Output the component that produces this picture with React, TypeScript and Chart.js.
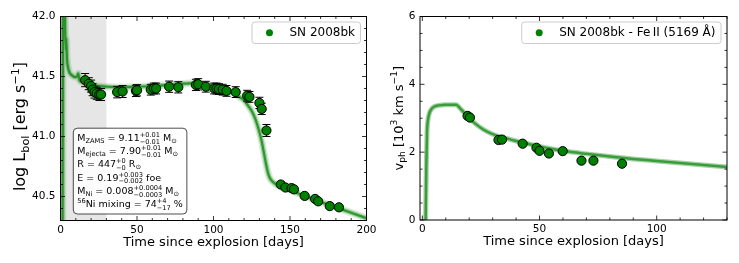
import React, { useEffect, useRef } from 'react';
import { Chart, registerables } from 'chart.js';
Chart.register(...registerables);

const FONT = '"DejaVu Sans", "Liberation Sans", sans-serif';
const GREEN = '#008000';

// ---------- Left panel: bolometric light curve ----------
const lcDays = [16.1, 18.5, 20.0, 21.0, 22.2, 23.7, 25.4, 26.5, 37.0, 40.6, 49.3, 50.0, 59.0, 61.0, 62.5, 71.0, 77.0, 88.5, 90.0, 95.0, 100.4, 102.0, 103.5, 106.0, 108.5, 114.5, 122.0, 123.5, 130.0, 131.5, 134.6, 144.0, 147.0, 151.0, 152.6, 159.6, 166.4, 168.4, 176.0, 182.0];
const lcLogL = [41.47, 41.44, 41.42, 41.39, 41.37, 41.36, 41.35, 41.35, 41.37, 41.375, 41.38, 41.385, 41.39, 41.40, 41.40, 41.415, 41.41, 41.43, 41.435, 41.415, 41.40, 41.40, 41.395, 41.39, 41.38, 41.37, 41.34, 41.33, 41.28, 41.23, 41.05, 40.60, 40.575, 40.57, 40.56, 40.505, 40.48, 40.46, 40.42, 40.41];
const lcErr = [0.055, 0.05, 0.05, 0.05, 0.05, 0.05, 0.05, 0.05, 0.048, 0.05, 0.047, 0.047, 0.045, 0.045, 0.045, 0.047, 0.047, 0.047, 0.047, 0.045, 0.045, 0.045, 0.045, 0.045, 0.045, 0.045, 0.045, 0.045, 0.047, 0.047, 0.05, 0.02, 0.02, 0.02, 0.02, 0.02, 0.02, 0.02, 0.02, 0.02];
const lcModelDays = [1.3, 1.5, 1.7, 2.3, 3.0, 3.4, 3.7, 4.2, 5.0, 6.0, 7.5, 9.5, 10.8, 11.6, 12.4, 14, 17, 21, 25, 30, 40, 50, 60, 70, 80, 88, 95, 102, 108, 113, 117, 120, 123, 125.5, 127.5, 129.5, 131.5, 133, 134.5, 136, 137.5, 139, 141, 144, 150, 160, 170, 180, 190, 202];
const lcModelLogL = [40.0, 41.2, 42.6, 42.6, 41.9, 41.72, 41.82, 41.65, 41.57, 41.53, 41.51, 41.495, 41.5, 41.525, 41.47, 41.455, 41.44, 41.43, 41.42, 41.415, 41.41, 41.415, 41.42, 41.43, 41.44, 41.445, 41.43, 41.41, 41.39, 41.36, 41.33, 41.3, 41.25, 41.2, 41.14, 41.06, 40.96, 40.86, 40.76, 40.68, 40.64, 40.62, 40.6, 40.58, 40.555, 40.5, 40.455, 40.41, 40.365, 40.31];
const lcXTicks = [0, 50, 100, 150, 200];
const lcYTicks = [40.5, 41.0, 41.5, 42.0];
const lcShade = [0, 30];

// ---------- Right panel: photospheric velocity ----------
const velDays = [19.3, 20.3, 32.5, 34.0, 42.8, 48.7, 50.0, 54.0, 59.9, 67.9, 73.0, 85.2];
const velVph = [3.07, 3.02, 2.36, 2.37, 2.25, 2.13, 2.04, 1.96, 2.03, 1.75, 1.75, 1.66];
const velModelDays = [1.4, 1.7, 2.0, 2.4, 3.0, 4.0, 5.0, 7.0, 10.0, 14.5, 16, 17.5, 19, 21, 23, 26, 30, 35, 40, 45, 50, 55, 60, 70, 80, 90, 100, 110, 120, 130];
const velModelVph = [0, 1.6, 2.6, 2.95, 3.15, 3.28, 3.34, 3.38, 3.4, 3.4, 3.3, 3.19, 3.09, 2.94, 2.82, 2.67, 2.53, 2.42, 2.33, 2.25, 2.17, 2.1, 2.04, 1.95, 1.87, 1.8, 1.74, 1.68, 1.62, 1.56];
const velXTicks = [0, 50, 100];
const velYTicks = [0, 2, 4, 6];

// ---------- Texts ----------
const xTitle = 'Time since explosion [days]';
const lcLegend = 'SN 2008bk';
const velLegend = 'SN 2008bk - Fe\u2009II (5169 Å)';

type Seg = { t?: string; sup?: string; sub?: string };
const lcYTitle: Seg[] = [{ t: 'log L' }, { sub: 'bol' }, { t: ' [erg s' }, { sup: '\u22121' }, { t: ']' }];
const velYTitle: Seg[] = [{ t: 'v' }, { sub: 'ph' }, { t: ' [10' }, { sup: '3' }, { t: ' km s' }, { sup: '\u22121' }, { t: ']' }];
const fitLines: Seg[][] = [
  [{ t: 'M' }, { sub: 'ZAMS' }, { t: ' = 9.11' }, { sup: '+0.01', sub: '\u22120.01' }, { t: ' M' }, { sub: '\u2299' }],
  [{ t: 'M' }, { sub: 'ejecta' }, { t: ' = 7.90' }, { sup: '+0.01', sub: '\u22120.01' }, { t: ' M' }, { sub: '\u2299' }],
  [{ t: 'R = 447' }, { sup: '+0', sub: '\u22120' }, { t: ' R' }, { sub: '\u2299' }],
  [{ t: 'E = 0.19' }, { sup: '+0.003', sub: '\u22120.002' }, { t: ' foe' }],
  [{ t: 'M' }, { sub: 'Ni' }, { t: ' = 0.008' }, { sup: '+0.0004', sub: '\u22120.0003' }, { t: ' M' }, { sub: '\u2299' }],
  [{ sup: '56' }, { t: 'Ni mixing = 74' }, { sup: '+4', sub: '\u221217' }, { t: ' %' }],
];

function richWidths(ctx: CanvasRenderingContext2D, segs: Seg[], size: number) {
  const ss = size * 0.7;
  return segs.map((s) => {
    if (s.t !== undefined) {
      ctx.font = `${size}px ${FONT}`;
      return ctx.measureText(s.t).width;
    }
    ctx.font = `${ss}px ${FONT}`;
    const a = s.sup ? ctx.measureText(s.sup).width : 0;
    const b = s.sub ? ctx.measureText(s.sub).width : 0;
    return Math.max(a, b);
  });
}

function drawRich(ctx: CanvasRenderingContext2D, segs: Seg[], x: number, y: number, size: number, center: boolean) {
  const ws = richWidths(ctx, segs, size);
  const total = ws.reduce((a, b) => a + b, 0);
  let cx = center ? x - total / 2 : x;
  ctx.textBaseline = 'alphabetic';
  ctx.textAlign = 'left';
  segs.forEach((s, i) => {
    if (s.t !== undefined) {
      ctx.font = `${size}px ${FONT}`;
      ctx.fillText(s.t, cx, y);
    } else {
      ctx.font = `${size * 0.7}px ${FONT}`;
      const both = !!(s.sup && s.sub);
      if (s.sup) ctx.fillText(s.sup, cx, y - size * (both ? 0.42 : 0.4));
      if (s.sub) ctx.fillText(s.sub, cx, y + size * (both ? 0.3 : 0.22));
    }
    cx += ws[i];
  });
  return total;
}

function roundRect(ctx: CanvasRenderingContext2D, x: number, y: number, w: number, h: number, r: number) {
  ctx.beginPath();
  ctx.moveTo(x + r, y);
  ctx.lineTo(x + w - r, y);
  ctx.arcTo(x + w, y, x + w, y + r, r);
  ctx.lineTo(x + w, y + h - r);
  ctx.arcTo(x + w, y + h, x + w - r, y + h, r);
  ctx.lineTo(x + r, y + h);
  ctx.arcTo(x, y + h, x, y + h - r, r);
  ctx.lineTo(x, y + r);
  ctx.arcTo(x, y, x + r, y, r);
  ctx.closePath();
}

interface PanelCfg {
  xMinor: number;
  yMinor: number;
  yTitle: Seg[];
  yTitleOffset: number;
  yTitleSize: number;
  yTitleShift: number;
  legend: string;
  shade?: number[];
  err?: number[];
  box?: Seg[][];
}

function makePlugin(cfg: PanelCfg) {
  return {
    id: 'panel',
    beforeDatasetsDraw(chart: any) {
      if (!cfg.shade) return;
      const { ctx, chartArea: ca, scales } = chart;
      const x0 = scales.x.getPixelForValue(cfg.shade[0]);
      const x1 = scales.x.getPixelForValue(cfg.shade[1]);
      ctx.save();
      ctx.fillStyle = 'rgba(128,128,128,0.2)';
      ctx.fillRect(x0, ca.top, x1 - x0, ca.bottom - ca.top);
      ctx.restore();
    },
    beforeDatasetDraw(chart: any, args: any) {
      if (!cfg.err || args.index !== 0) return;
      const { ctx, scales } = chart;
      const ds = chart.data.datasets[0];
      ctx.save();
      ctx.strokeStyle = '#000';
      ctx.lineWidth = 1;
      ds.data.forEach((p: any, i: number) => {
        const e = cfg.err![i];
        if (!e) return;
        const px = scales.x.getPixelForValue(p.x);
        const y0 = scales.y.getPixelForValue(p.y - e);
        const y1 = scales.y.getPixelForValue(p.y + e);
        ctx.beginPath();
        ctx.moveTo(px, y0);
        ctx.lineTo(px, y1);
        ctx.moveTo(px - 4, y0);
        ctx.lineTo(px + 4, y0);
        ctx.moveTo(px - 4, y1);
        ctx.lineTo(px + 4, y1);
        ctx.stroke();
      });
      ctx.restore();
    },
    afterDraw(chart: any) {
      const { ctx, chartArea: ca, scales } = chart;
      const xs = scales.x;
      const ys = scales.y;
      ctx.save();
      ctx.strokeStyle = '#000';
      ctx.lineWidth = 0.8;
      const line = (a: number, b: number, c: number, d: number) => {
        ctx.beginPath();
        ctx.moveTo(a, b);
        ctx.lineTo(c, d);
        ctx.stroke();
      };
      const majX = xs.ticks.map((t: any) => t.value);
      const majY = ys.ticks.map((t: any) => t.value);
      const isMaj = (arr: number[], v: number) => arr.some((m) => Math.abs(m - v) < 1e-6);
      for (let v = Math.ceil(xs.min / cfg.xMinor) * cfg.xMinor; v <= xs.max + 1e-9; v += cfg.xMinor) {
        const px = xs.getPixelForValue(v);
        const L = isMaj(majX, v) ? 4.5 : 2.5;
        line(px, ca.bottom, px, ca.bottom - L);
        line(px, ca.top, px, ca.top + L);
      }
      for (let k = Math.ceil(ys.min / cfg.yMinor - 1e-6); k * cfg.yMinor <= ys.max + 1e-9; k++) {
        const v = k * cfg.yMinor;
        const py = ys.getPixelForValue(v);
        const L = isMaj(majY, v) ? 4.5 : 2.5;
        line(ca.left, py, ca.left + L, py);
        line(ca.right, py, ca.right - L, py);
      }
      ctx.lineWidth = 1;
      ctx.strokeRect(ca.left, ca.top, ca.right - ca.left, ca.bottom - ca.top);
      ctx.fillStyle = '#000';
      ctx.font = `13px ${FONT}`;
      ctx.textAlign = 'center';
      ctx.textBaseline = 'middle';
      ctx.fillText(xTitle, (ca.left + ca.right) / 2, ca.bottom + 22);
      ctx.save();
      ctx.translate(ca.left - cfg.yTitleOffset, (ca.top + ca.bottom) / 2 + cfg.yTitleShift);
      ctx.rotate(-Math.PI / 2);
      drawRich(ctx, cfg.yTitle, 0, cfg.yTitleSize * 0.35, cfg.yTitleSize, true);
      ctx.restore();
      ctx.font = `12px ${FONT}`;
      const tw = ctx.measureText(cfg.legend).width;
      const w = tw + 43;
      const h = 21.5;
      const bx = ca.right - 6 - w;
      const by = ca.top + 5.5;
      roundRect(ctx, bx, by, w, h, 3);
      ctx.fillStyle = 'rgba(255,255,255,0.8)';
      ctx.fill();
      ctx.strokeStyle = '#cccccc';
      ctx.lineWidth = 1;
      ctx.stroke();
      ctx.beginPath();
      ctx.arc(bx + 17.5, by + h / 2, 3.5, 0, Math.PI * 2);
      ctx.fillStyle = GREEN;
      ctx.fill();
      ctx.fillStyle = '#000';
      ctx.textAlign = 'left';
      ctx.textBaseline = 'middle';
      ctx.fillText(cfg.legend, bx + 37.5, by + h / 2 + 0.5);
      if (cfg.box) {
        const fs = 9.5;
        const widths = cfg.box.map((l) => richWidths(ctx, l, fs).reduce((a, b) => a + b, 0));
        const bw = Math.max(...widths) + 8;
        const lh = 13.3;
        const bh = lh * cfg.box.length + 6;
        const x0 = ca.left + 12.8;
        const y0 = ca.bottom - 6.5 - bh;
        roundRect(ctx, x0, y0, bw, bh, 4);
        ctx.fillStyle = 'rgba(255,255,255,0.9)';
        ctx.fill();
        ctx.strokeStyle = 'rgba(0,0,0,0.7)';
        ctx.lineWidth = 1;
        ctx.stroke();
        ctx.fillStyle = '#000';
        cfg.box.forEach((l, i) => {
          drawRich(ctx, l, x0 + 4, y0 + 12.5 + i * lh, fs, false);
        });
      }
      ctx.restore();
    },
  };
}

const tickFont = { family: FONT, size: 10.5 };

function bandDatasets(xs: number[], ys: number[], layers: { w: number; c: string }[]) {
  const data = xs.map((d, i) => ({ x: d, y: ys[i] }));
  return layers.map((l) => ({
    data,
    showLine: true,
    borderColor: l.c,
    borderWidth: l.w,
    pointRadius: 0,
    cubicInterpolationMode: 'monotone',
    clip: 0,
  }));
}

function baseScale(min: number, max: number, ticks: number[], size: number, isX: boolean, fmt: (v: number) => string, pad: number) {
  return {
    type: 'linear',
    min,
    max,
    afterBuildTicks: (s: any) => {
      s.ticks = ticks.map((v) => ({ value: v }));
    },
    afterFit: (s: any) => {
      if (isX) {
        s.height = size;
        s.paddingLeft = 0;
        s.paddingRight = 0;
      } else {
        s.width = size;
        s.paddingTop = 0;
        s.paddingBottom = 0;
      }
    },
    ticks: { font: tickFont, color: '#000', padding: pad, maxRotation: 0, autoSkip: false, callback: (v: any) => fmt(Number(v)) },
    grid: { display: false, drawTicks: false },
    border: { display: false },
  };
}

function lcConfig(): any {
  const pts = lcDays.map((d, i) => ({ x: d, y: lcLogL[i] }));
  return {
    type: 'scatter',
    data: {
      datasets: [
        { data: pts, pointRadius: 4.6, pointBackgroundColor: GREEN, pointBorderColor: '#000', pointBorderWidth: 1, showLine: false },
        ...bandDatasets(lcModelDays, lcModelLogL, [
          { w: 2.2, c: 'rgba(0,128,0,0.7)' },
          { w: 4.5, c: 'rgba(0,128,0,0.3)' },
          { w: 7.5, c: 'rgba(0,128,0,0.14)' },
        ]),
      ],
    },
    options: {
      responsive: false,
      devicePixelRatio: 1,
      animation: false,
      events: [],
      layout: { padding: { left: 0, top: 16.5, right: 739 - 366.5, bottom: 0 } },
      plugins: { legend: { display: false }, tooltip: { enabled: false } },
      scales: {
        x: baseScale(0, 200, lcXTicks, 263 - 220.5, true, (v) => String(v), 3),
        y: baseScale(40.3, 42.0, lcYTicks, 60.5, false, (v) => v.toFixed(1), 5),
      },
    },
    plugins: [makePlugin({ xMinor: 10, yMinor: 0.1, yTitle: lcYTitle, yTitleOffset: 41, yTitleSize: 16, yTitleShift: 8, legend: lcLegend, shade: lcShade, err: lcErr, box: fitLines })],
  };
}

function velConfig(): any {
  const pts = velDays.map((d, i) => ({ x: d, y: velVph[i] }));
  return {
    type: 'scatter',
    data: {
      datasets: [
        { data: pts, pointRadius: 4.6, pointBackgroundColor: GREEN, pointBorderColor: '#000', pointBorderWidth: 1, showLine: false },
        ...bandDatasets(velModelDays, velModelVph, [
          { w: 2.5, c: 'rgba(0,128,0,0.65)' },
          { w: 5, c: 'rgba(0,128,0,0.35)' },
        ]),
      ],
    },
    options: {
      responsive: false,
      devicePixelRatio: 1,
      animation: false,
      events: [],
      layout: { padding: { left: 370, top: 16.5, right: 12, bottom: 0 } },
      plugins: { legend: { display: false }, tooltip: { enabled: false } },
      scales: {
        x: baseScale(-1, 130, velXTicks, 263 - 220, true, (v) => String(v), 3),
        y: baseScale(0, 6, velYTicks, 50, false, (v) => String(v), 4.5),
      },
    },
    plugins: [makePlugin({ xMinor: 10, yMinor: 0.5, yTitle: velYTitle, yTitleOffset: 22, yTitleSize: 13, yTitleShift: 0, legend: velLegend })],
  };
}

export default function App() {
  const leftRef = useRef<HTMLCanvasElement>(null);
  const rightRef = useRef<HTMLCanvasElement>(null);
  useEffect(() => {
    const c1 = new Chart(leftRef.current as HTMLCanvasElement, lcConfig());
    const c2 = new Chart(rightRef.current as HTMLCanvasElement, velConfig());
    return () => {
      c1.destroy();
      c2.destroy();
    };
  }, []);
  return (
    <div style={{ position: 'absolute', left: 0, top: 0, width: 739, height: 263, background: '#fff', overflow: 'hidden' }}>
      <canvas ref={leftRef} width={739} height={263} style={{ position: 'absolute', left: 0, top: 0 }} />
      <canvas ref={rightRef} width={739} height={263} style={{ position: 'absolute', left: 0, top: 0 }} />
    </div>
  );
}
